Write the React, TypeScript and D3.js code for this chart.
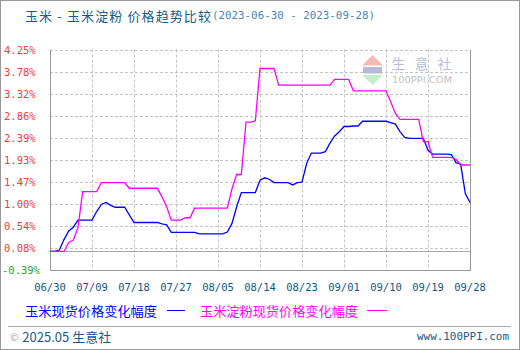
import React from 'react';
import * as d3 from 'd3';

const W = 520;
const H = 350;

const startDay = '2023/06/30';
const xTickLabels = ['06/30', '07/09', '07/18', '07/27', '08/05', '08/14', '08/23', '09/01', '09/10', '09/19', '09/28'];
const yTickValues = [4.25, 3.78, 3.32, 2.86, 2.39, 1.93, 1.47, 1.0, 0.54, 0.08, -0.39];

// 玉米现货价格变化幅度 (%), daily from 2023-06-30 to 2023-09-28
const cornValues = [
  0, 0, 0.03, 0.25, 0.43, 0.51, 0.66, 0.66, 0.66, 0.66,
  0.84, 0.99, 1.03, 0.97, 0.93, 0.93, 0.93, 0.77, 0.61, 0.61,
  0.61, 0.61, 0.61, 0.61, 0.58, 0.56, 0.40, 0.40, 0.40, 0.40,
  0.40, 0.40, 0.37, 0.37, 0.37, 0.37, 0.37, 0.37, 0.41, 0.59,
  0.94, 1.24, 1.24, 1.24, 1.24, 1.50, 1.55, 1.52, 1.45, 1.45,
  1.45, 1.45, 1.40, 1.45, 1.46, 1.85, 2.07, 2.07, 2.07, 2.10,
  2.28, 2.43, 2.52, 2.63, 2.63, 2.64, 2.64, 2.74, 2.74, 2.74,
  2.74, 2.74, 2.74, 2.71, 2.68, 2.52, 2.40, 2.38, 2.38, 2.38,
  2.38, 2.13, 2.05, 2.05, 2.05, 2.05, 2.04, 1.87, 1.84, 1.22,
  1.03,
];

// 玉米淀粉现货价格变化幅度 (%)
const starchValues = [
  0, 0, 0, 0, 0.19, 0.24, 0.50, 1.26, 1.26, 1.26,
  1.26, 1.45, 1.45, 1.45, 1.45, 1.45, 1.45, 1.33, 1.33, 1.33,
  1.33, 1.33, 1.33, 1.33, 1.15, 0.94, 0.66, 0.66, 0.66, 0.71,
  0.71, 0.91, 0.91, 0.91, 0.91, 0.91, 0.91, 0.91, 0.91, 1.32,
  1.62, 1.62, 2.72, 2.72, 2.75, 3.85, 3.85, 3.85, 3.85, 3.50,
  3.50, 3.50, 3.50, 3.50, 3.50, 3.50, 3.50, 3.50, 3.50, 3.50,
  3.50, 3.62, 3.62, 3.62, 3.62, 3.38, 3.38, 3.38, 3.38, 3.38,
  3.38, 3.38, 3.38, 3.15, 2.91, 2.78, 2.78, 2.78, 2.78, 2.78,
  2.31, 2.31, 1.98, 1.98, 1.98, 1.98, 1.98, 1.94, 1.82, 1.82,
  1.82,
];

const parse = d3.timeParse('%Y/%m/%d');
const start = parse(startDay) as Date;
const dates = cornValues.map((_, i) => d3.timeDay.offset(start, i));
const tickDates = xTickLabels.map((l) => parse('2023/' + l) as Date);

const left = 50, right = 470, top = 49.5, bottom = 270;

const NUM_FONT = '"DejaVu Sans Mono", monospace';
const CJK_FONT = '"Noto Sans CJK SC", sans-serif';

export default function App() {
  const x = d3.scaleTime().domain([dates[0], dates[dates.length - 1]]).range([left, right]);
  const y = d3.scaleLinear().domain([-0.39, 4.25]).range([bottom, top]);
  const line = d3
    .line<number>()
    .x((_, i) => x(dates[i]))
    .y((d) => y(d));

  return (
    <div style={{ position: 'fixed', left: 0, top: 0 }}>
      <svg width={W} height={H} style={{ display: 'block', background: '#fff' }}>
        <rect x={0.5} y={0.5} width={W - 1} height={H - 1} fill="#fff" stroke="#999" />
        {/* title */}
        <text x={25} y={15.5} dominantBaseline="central" fontFamily={CJK_FONT} fontSize={13} fill="#1b5a87" textLength={186} lengthAdjust="spacing" style={{ whiteSpace: 'pre' }}>
          {'玉米 - 玉米淀粉 价格趋势比较'}
        </text>
        <text x={212} y={15.5} dominantBaseline="central" fontFamily={NUM_FONT} fontSize={11} fill="#4a86b5" textLength={163} lengthAdjust="spacingAndGlyphs">
          (2023-06-30 - 2023-09-28)
        </text>

        {/* grid */}
        {yTickValues.slice(0, -1).map((v) => (
          <line key={'h' + v} x1={left} x2={right} y1={Math.round(y(v)) + 0.5} y2={Math.round(y(v)) + 0.5} stroke="#c4c4c4" strokeDasharray="3,2" />
        ))}
        {tickDates.slice(1, -1).map((d, i) => (
          <line key={'v' + i} x1={Math.round(x(d)) + 0.5} x2={Math.round(x(d)) + 0.5} y1={top} y2={bottom} stroke="#c4c4c4" strokeDasharray="3,2" />
        ))}

        {/* watermark */}
        <g>
          <polygon points="362,65.5 383,65.5 372.5,55" fill="#f4b9b2" />
          <rect x={363} y={67} width={19} height={6.5} fill="#b3bbd8" />
          <polygon points="362,75 383,75 372.5,85" fill="#c6ebc6" />
          <text x={391.5} y={62.5} dominantBaseline="central" fontFamily={CJK_FONT} fontSize={14} fill="#b7bfda" textLength={60} lengthAdjust="spacing">
            生意社
          </text>
          <text x={392} y={80} dominantBaseline="central" fontFamily='"DejaVu Sans", sans-serif' fontSize={9} fill="#c2c2c2" textLength={60} lengthAdjust="spacingAndGlyphs">
            100PPI.COM
          </text>
        </g>

        {/* zero line */}
        <line x1={left} x2={right} y1={Math.round(y(0)) + 0.5} y2={Math.round(y(0)) + 0.5} stroke="#aaa" />

        {/* frame */}
        <line x1={left + 0.5} x2={left + 0.5} y1={top} y2={bottom} stroke="#999" />
        <line x1={right + 0.5} x2={right + 0.5} y1={top} y2={bottom} stroke="#999" />
        <line x1={left} x2={right + 1} y1={bottom + 0.5} y2={bottom + 0.5} stroke="#999" />

        {/* series */}
        <path d={line(cornValues) || ''} fill="none" stroke="#0000ff" strokeWidth={1.3} />
        <path d={line(starchValues) || ''} fill="none" stroke="#ff00ff" strokeWidth={1.3} />

        {/* y labels */}
        {yTickValues.map((v) => (
          <text key={'yl' + v} x={v < 0 ? 2 : 4} y={y(v)} dominantBaseline="central" fontFamily={NUM_FONT} fontSize={10.5} fill={v < 0 ? '#2aa52a' : '#f03c3c'}>
            {v.toFixed(2) + '%'}
          </text>
        ))}

        {/* x labels */}
        {tickDates.map((d, i) => (
          <text key={'xl' + i} x={x(d)} y={287} textAnchor="middle" dominantBaseline="central" fontFamily={NUM_FONT} fontSize={10.5} fill="#0d5a88">
            {xTickLabels[i]}
          </text>
        ))}

        {/* legend */}
        <text x={25} y={310} dominantBaseline="central" fontFamily={CJK_FONT} fontSize={13} fill="#0000ff" textLength={132} lengthAdjust="spacingAndGlyphs">
          玉米现货价格变化幅度
        </text>
        <line x1={167} x2={185} y1={310.5} y2={310.5} stroke="#0000ff" strokeWidth={1} />
        <text x={200} y={310} dominantBaseline="central" fontFamily={CJK_FONT} fontSize={13} fill="#ff00ff" textLength={158} lengthAdjust="spacingAndGlyphs">
          玉米淀粉现货价格变化幅度
        </text>
        <line x1={367} x2={387} y1={310.5} y2={310.5} stroke="#ff00ff" strokeWidth={1} />

        {/* footer */}
        <line x1={8} x2={511} y1={326.5} y2={326.5} stroke="#aaa" />
        <text x={10} y={336} dominantBaseline="central" fontFamily={CJK_FONT} fontSize={13} fill="#1b5a87">
          <tspan fill="#8aa8c0" fontSize={10}>©</tspan>
          <tspan dx={4}>2025.05 生意社</tspan>
        </text>
        <text x={509} y={336} textAnchor="end" dominantBaseline="central" fontFamily={NUM_FONT} fontSize={11} fill="#1b5a87" textLength={92} lengthAdjust="spacingAndGlyphs">
          www.100PPI.com
        </text>
      </svg>
    </div>
  );
}
